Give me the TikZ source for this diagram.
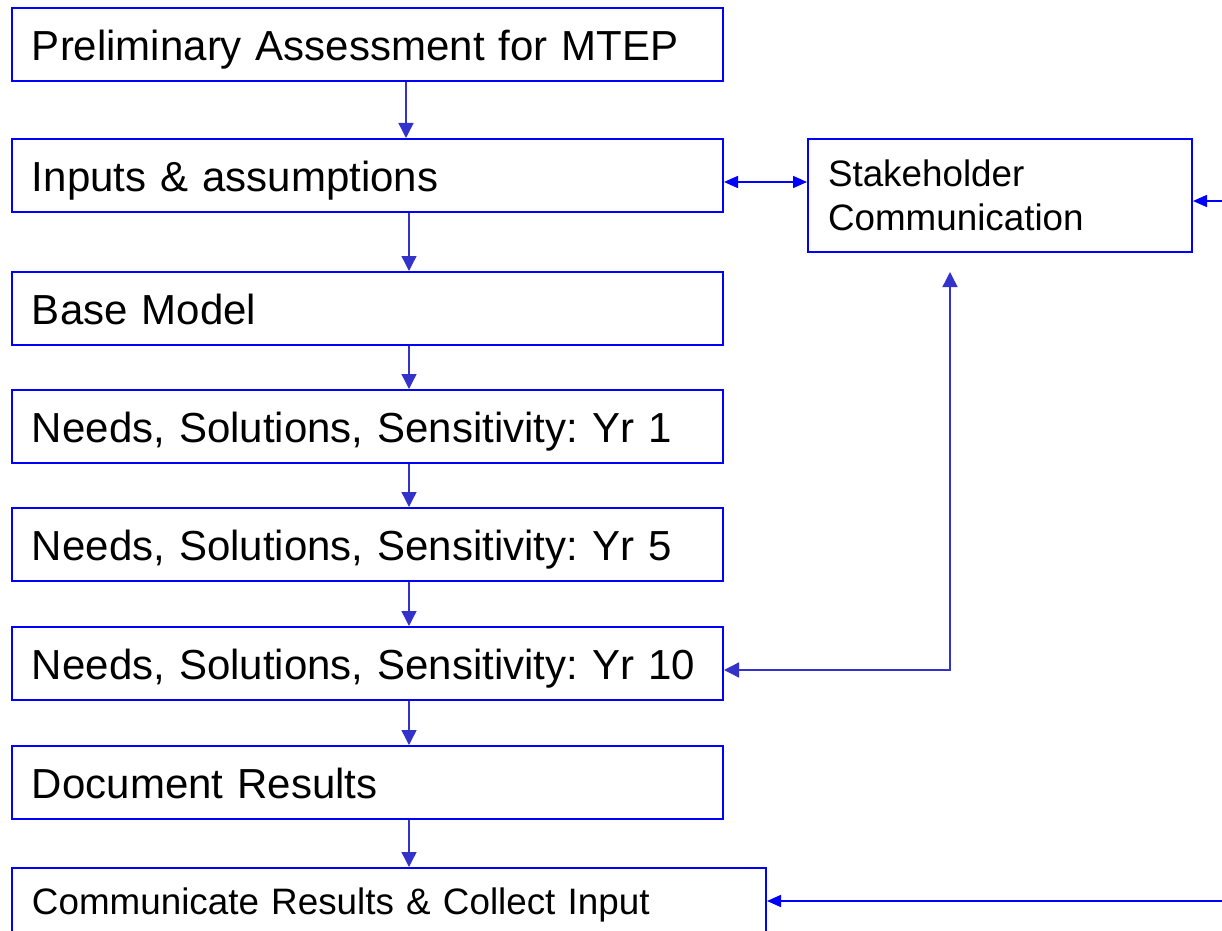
\documentclass[tikz,border=0pt]{standalone}
\usepackage{fontspec}
\setmainfont{Liberation Sans}
\usetikzlibrary{arrows.meta}
\definecolor{boxblue}{RGB}{0,0,255}
\definecolor{arrblue}{RGB}{51,51,204}
\frenchspacing
\tikzset{
    frame/.style={draw=boxblue, line width=1pt, anchor=north west, inner xsep=10pt,
        align=left},
    stepbox/.style={frame, text width=335.5pt, minimum height=36.5pt, text height=15.7pt,
        text depth=0pt, font=\fontsize{21}{25}\selectfont},
    flow/.style={draw=arrblue, line width=0.7pt, -{Triangle[length=7.5pt, width=7.5pt]}},
    link/.style={draw=boxblue, line width=0.8pt, -{Triangle[length=7pt, width=6pt]}}
}
\begin{document}
\begin{tikzpicture}[x=0.5pt, y=-0.5pt]
    \clip (0, 0) rectangle (1222, 931);
    \useasboundingbox (0, 0) rectangle (1222, 931);
    \node[stepbox] (prelim) at (11, 7) {Preliminary Assessment for MTEP};
    \node[stepbox] (inputs) at (11, 138) {Inputs \& assumptions};
    \node[stepbox] (base) at (11, 271) {Base Model};
    \node[stepbox] (yr1) at (11, 389) {Needs, Solutions, Sensitivity: Yr 1};
    \node[stepbox] (yr5) at (11, 507) {Needs, Solutions, Sensitivity: Yr 5};
    \node[stepbox] (yr10) at (11, 626) {Needs, Solutions, Sensitivity: Yr 10};
    \node[stepbox] (docres) at (11, 745) {Document Results};
    \node[frame, text width=357pt, inner ysep=6pt, text height=17.4pt, text depth=30pt,
        font=\fontsize{18.4}{22}\selectfont] (commres) at (11, 867)
        {Communicate Results \& Collect Input};
    \node[frame, text width=172pt, minimum height=56.5pt,
        font=\fontsize{18.4}{22}\selectfont] (stake) at (807, 138)
        {Stakeholder\\Communication};
    % columns and rows of the connectors
    \coordinate (colA) at (406, 0);
    \coordinate (colB) at (409, 0);
    \coordinate (colS) at (950, 0);
    \coordinate (rowS) at (0, 182);
    \coordinate (rowR) at (0, 201);
    \coordinate (rowY) at (0, 670);
    \coordinate (rowC) at (0, 901);
    \coordinate (tipS) at (950, 272);
    \coordinate (edgeR) at (1222, 201);
    \coordinate (edgeC) at (1222, 901);
    \draw[flow] (prelim.south -| colA) -- (inputs.north -| colA);
    \draw[flow] (inputs.south -| colB) -- (base.north -| colB);
    \draw[flow] (base.south -| colB) -- (yr1.north -| colB);
    \draw[flow] (yr1.south -| colB) -- (yr5.north -| colB);
    \draw[flow] (yr5.south -| colB) -- (yr10.north -| colB);
    \draw[flow] (yr10.south -| colB) -- (docres.north -| colB);
    \draw[flow] (docres.south -| colB) -- (commres.north -| colB);
    \draw[link, {Triangle[length=7pt, width=6pt]}-{Triangle[length=7pt, width=6pt]}]
        (inputs.east |- rowS) -- (stake.west |- rowS);
    \draw[link] (edgeR) -- (stake.east |- rowR);
    \draw[flow, {Triangle[length=7.5pt, width=7.5pt]}-{Triangle[length=7.5pt, width=7.5pt]}]
        (tipS) -- (colS |- rowY) -- (yr10.east |- rowY);
    \draw[link] (edgeC) -- (commres.east |- rowC);
\end{tikzpicture}
\end{document}
